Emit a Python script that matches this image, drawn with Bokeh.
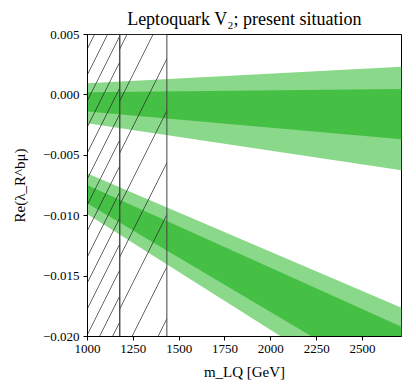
from bokeh.plotting import figure
from bokeh.models import Range1d, FixedTicker, CustomJSTickFormatter
from bokeh.embed import file_html
from bokeh.resources import INLINE

# ---- data ----
m_lq = [1000, 2713]                     # GeV, band edges are straight lines
up_light_hi = [0.00097, 0.00234]
up_dark_hi = [0.00021, 0.00048]
up_dark_lo = [-0.00138, -0.00368]
up_light_lo = [-0.00234, -0.00623]

lo_light_hi = [-0.00651, -0.01761]
lo_dark_hi = [-0.00747, -0.0192]
lo_dark_lo = [-0.00898, -0.0244]
lo_light_lo = [-0.00988, -0.0263]

excl_dense = [1000, 1176]     # doubly excluded region
excl_sparse = [1176, 1433]    # singly excluded region

x_ticks = [1000, 1250, 1500, 1750, 2000, 2250, 2500]
y_ticks = [-0.020, -0.015, -0.010, -0.005, 0.000, 0.005]

LIGHT = "#8ad88a"
DARK = "#45c045"
FONT = "Liberation Serif"

p = figure(width=416, height=389, output_backend="svg", toolbar_location=None,
           x_range=Range1d(1000, 2713), y_range=Range1d(-0.020, 0.005),
           min_border_left=87, min_border_right=15, min_border_top=32, min_border_bottom=53)

p.varea(x=m_lq, y1=up_light_lo, y2=up_light_hi, fill_color=LIGHT)
p.varea(x=m_lq, y1=up_dark_lo, y2=up_dark_hi, fill_color=DARK)
p.varea(x=m_lq, y1=lo_light_lo, y2=lo_light_hi, fill_color=LIGHT)
p.varea(x=m_lq, y1=lo_dark_lo, y2=lo_dark_hi, fill_color=DARK)

p.quad(left=[excl_dense[0]], right=[excl_dense[1]], bottom=[-0.020], top=[0.005],
       fill_color=None, line_color="#444444", line_width=1,
       hatch_pattern="/", hatch_color="#222222", hatch_weight=0.7, hatch_scale=26)
p.quad(left=[excl_sparse[0]], right=[excl_sparse[1]], bottom=[-0.020], top=[0.005],
       fill_color=None, line_color="#444444", line_width=1,
       hatch_pattern="/", hatch_color="#222222", hatch_weight=0.7, hatch_scale=52)

p.grid.visible = False
p.outline_line_color = "black"
p.outline_line_width = 1
for ax in (p.xaxis[0], p.yaxis[0]):
    ax.axis_line_color = "black"
    ax.major_tick_out = 4
    ax.major_tick_in = 0
    ax.minor_tick_line_color = None
    ax.major_label_text_font = FONT
    ax.major_label_text_font_size = "13px"
    ax.major_label_text_color = "black"
    ax.major_label_standoff = 4
    ax.axis_label_text_font = FONT
    ax.axis_label_text_font_size = "15px"
    ax.axis_label_text_font_style = "normal"
    ax.axis_label_text_color = "black"

p.xaxis.ticker = FixedTicker(ticks=x_ticks)
p.yaxis.ticker = FixedTicker(ticks=y_ticks)
p.yaxis.formatter = CustomJSTickFormatter(
    code="return tick.toFixed(3).replace('-', '\\u2212');")

p.xaxis.axis_label = "m_LQ [GeV]"
p.xaxis.axis_label_standoff = 8
p.yaxis.axis_label = "Re(λ_R^bμ)"
p.yaxis.axis_label_standoff = 12

p.title.text = "Leptoquark V₂; present situation"
p.title.align = "center"
p.title.text_font = FONT
p.title.text_font_size = "18px"
p.title.text_font_style = "normal"
p.title.text_color = "black"
p.title.standoff = 12

open("out.html", "w").write(file_html(p, INLINE))
